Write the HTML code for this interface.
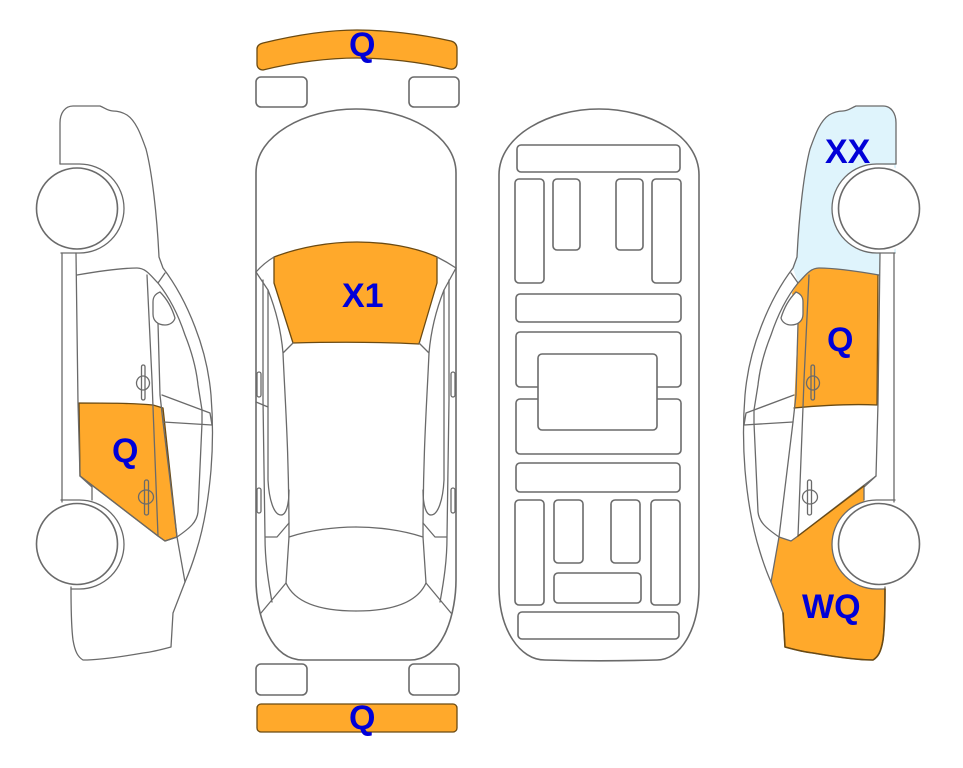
<!DOCTYPE html>
<html><head><meta charset="utf-8"><style>
html,body{margin:0;padding:0;background:#fff}
svg{display:block}
text{font-family:"Liberation Sans",sans-serif;font-weight:bold;font-size:34px;fill:#0000d8}
.l{fill:none;stroke:#6a6a6a;stroke-width:1.3;stroke-linejoin:round;stroke-linecap:round}
.r{fill:#fff;stroke:#6a6a6a;stroke-width:1.6}
.o{fill:#ffa92b;stroke:#6b4a12;stroke-width:1.3;stroke-linejoin:round}
.p{stroke:none}
</style></head><body>
<svg width="963" height="768" viewBox="0 0 963 768" xmlns="http://www.w3.org/2000/svg">
<defs>
<g id="side">
<path class="l" d="M60 164V123C60 113 65 106 73 106L100 106C105 108 108 111 113 111C118 111 122 112 127 115C136 121 141 135 146 149C152 172 157 215 159 257L163 268C176 285 187 306 195 327C204 350 209 372 211 395C213 420 213 445 211 470C208 505 203 530 196 552C192 565 189 573 185 582L173 613L171 647C160 650 152 652 143 653C120 657 100 660 83 660C78 657 75 652 73 640C71 625 71 605 71 587"/>
<path class="l" d="M60 164H79.500A44.500 44.500 0 0 1 79.500 253H61"/>
<path class="l" d="M61 500H79.500A44.500 44.500 0 0 1 79.500 589H71"/>
<path class="l" d="M62 253V502M76 253L78 403L80 476L92 487V500"/>
<path class="l" d="M77 275C100 271 120 268 137 268C146 268 151 276 158 283C170 298 178 314 185 335C191 350 196 366 198 385L202 410V423L198 512C197 522 190 528 177 537L165 541L158 536L80 476"/>
<path class="l" d="M147 275L152 380L153 407L158 536M165 273L158 283"/>
<path class="l" d="M158 323L160 395L163 422L177 537L185 582"/>
<path class="l" d="M162 395L210 413L212 425L163 422"/>
<path class="r" style="stroke-width:1.300" d="M160 292C155 294 153 297 153 302V314C153 321 158 325 165 325C170 325 174 322 175 318C172 308 167 299 160 292Z"/>
<rect x="141.500" y="365" width="3.500" height="35" rx="1.700" class="l"/>
<ellipse cx="143" cy="383" rx="6.500" ry="7" class="l"/>
<rect x="144.500" y="480" width="4" height="35" rx="1.800" class="l"/>
<ellipse cx="146" cy="497" rx="7.500" ry="7" class="l"/>
<circle class="r" cx="77" cy="208.500" r="40.500"/>
<circle class="r" cx="77" cy="544" r="40.500"/>
</g>
</defs>

<!-- left car -->
<path class="o" d="M79 403C105 403 130 403 153 405L163 408L177 537L165 541L158 536L80 476Z"/>
<use href="#side"/>
<text x="112" y="462">Q</text>

<!-- right car, drawn in mirrored coordinates -->
<g transform="translate(956 0) scale(-1 1)">
<path fill="#dff4fc" d="M60 164V123C60 113 65 106 73 106L100 106C105 108 108 111 113 111C118 111 122 112 127 115C136 121 141 135 146 149C152 172 157 215 159 257L163 268L158 283C151 276 146 268 137 268C120 268 100 271 77 275L76 253H60Z"/>
<path class="o p" d="M78 275C100 271 120 268 137 268C146 268 151 276 158 283L164 293L158 323L162 408C130 405 100 404 79 405Z"/>
<path class="l" style="stroke:#6b4a12" d="M78 275L79 405C100 404 130 405 162 408"/>
<path class="o p" d="M92 486L158 536L165 541L177 537L185 582L173 613L171 647C160 650 152 652 143 653C120 657 100 660 83 660C78 657 75 652 73 640C71 625 71 605 71 589L92 500Z"/>
<circle cx="79.500" cy="544.500" r="44.500" fill="#fff"/>
<circle cx="79.500" cy="208.500" r="44.500" fill="#fff"/>
<path fill="#fff" d="M62 253V165H79V253Z"/>
<use href="#side"/>
<path class="l" style="stroke:#6b4a12;stroke-width:1.600" d="M71 589C71 605 71 625 73 640C75 652 78 657 83 660C100 660 120 657 143 653C152 652 160 650 171 647L173 613"/>
<path class="l" style="stroke:#6b4a12" d="M92 486L158 536"/>
</g>
<text x="825" y="163">XX</text>
<text x="827" y="351">Q</text>
<text x="802" y="618">WQ</text>

<!-- top view -->
<path class="o" d="M263 43C300 34 330 30 357 30C385 30 420 34 451 41C455 42 457 45 457 49V63C457 67 454 70 450 69C420 62 385 58 357 58C330 58 295 62 263 70C260 70 257 68 257 64V49C257 46 259 44 263 43Z"/>
<text x="349" y="56">Q</text>
<rect class="r" x="256" y="77" width="51" height="30" rx="5"/>
<rect class="r" x="409" y="77" width="50" height="30" rx="5"/>
<rect class="r" x="256" y="664" width="51" height="31" rx="5"/>
<rect class="r" x="409" y="664" width="50" height="31" rx="5"/>
<rect class="o" x="257" y="704" width="200" height="28" rx="4"/>
<text x="349" y="729">Q</text>
<path class="o" d="M274 257C300 247 330 242 357 242C385 242 415 247 437 257V283L419 344C380 342 330 342 293 343L274 283Z"/>
<path class="l" style="stroke-width:1.600" d="M256 272V173C256 135 305 109 356 109C407 109 456 135 456 173V580C456 610 445 660 410 660H303C268 660 256 610 256 580Z"/>
<path class="l" d="M256 272Q264 263 274 257M456 268Q447 262 437 257"/>
<path class="l" d="M256 272L268 290C276 310 281 330 283 353L293 343M283 353C285 400 289 450 289 537L286 583C295 603 320 611 356 611"/>
<path class="l" d="M289 537C310 530 335 527 356 527"/>
<path class="l" d="M286 583L261 613M272 602C268 580 265 560 265 537L263 400V280M268 290V480C269 500 274 515 281 515C286 515 289 505 289 490M265 537H277L289 523M256 402L268 407"/>
<rect class="l" x="257" y="372" width="4" height="25" rx="2"/>
<rect class="l" x="257" y="488" width="4" height="25" rx="2"/>
<g transform="translate(712 0) scale(-1 1)">
<path class="l" d="M256 268L268 290C276 310 281 330 283 353L293 343M283 353C285 400 289 450 289 537L286 583C295 603 320 611 356 611"/>
<path class="l" d="M289 537C310 530 335 527 356 527"/>
<path class="l" d="M286 583L261 613M272 602C268 580 265 560 265 537L263 400V280M268 290V480C269 500 274 515 281 515C286 515 289 505 289 490M265 537H277L289 523"/>
<rect class="l" x="257" y="372" width="4" height="25" rx="2"/>
<rect class="l" x="257" y="488" width="4" height="25" rx="2"/>
</g>
<text x="342" y="307">X1</text>

<!-- underside -->
<path class="l" style="stroke-width:1.600" d="M499 175C499 135 550 109 599 109C648 109 699 135 699 175V587C699 630 680 660 657 660C620 661 580 661 545 660C520 660 499 630 499 587Z"/>
<g fill="#fff" stroke="#6a6a6a" stroke-width="1.600">
<rect x="517" y="145" width="163" height="27" rx="4"/>
<rect x="515" y="179" width="29" height="104" rx="4"/>
<rect x="553" y="179" width="27" height="71" rx="4"/>
<rect x="616" y="179" width="27" height="71" rx="4"/>
<rect x="652" y="179" width="29" height="104" rx="4"/>
<rect x="516" y="294" width="165" height="28" rx="4"/>
<rect x="516" y="332" width="165" height="55" rx="4"/>
<rect x="516" y="399" width="165" height="55" rx="4"/>
<rect x="538" y="354" width="119" height="76" rx="4"/>
<rect x="516" y="463" width="164" height="29" rx="4"/>
<rect x="515" y="500" width="29" height="105" rx="4"/>
<rect x="554" y="500" width="29" height="63" rx="4"/>
<rect x="611" y="500" width="29" height="63" rx="4"/>
<rect x="651" y="500" width="29" height="105" rx="4"/>
<rect x="554" y="573" width="87" height="30" rx="4"/>
<rect x="518" y="612" width="161" height="27" rx="4"/>
</g>
</svg>
</body></html>
